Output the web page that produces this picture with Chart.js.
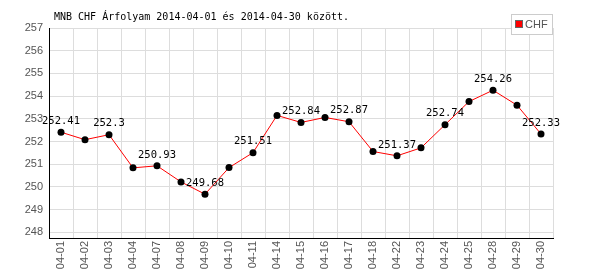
<!DOCTYPE html>
<html>
<head>
<meta charset="utf-8">
<script src="https://cdn.jsdelivr.net/npm/chart.js@4/dist/chart.umd.min.js"></script>
<style>
  body { margin: 0; background: #fff; }
  #wrap { width: 600px; height: 270px; }
</style>
</head>
<body>
<div id="wrap"><canvas id="chart"></canvas></div>
<script>
// Datos
const dates = ['04-01','04-02','04-03','04-04','04-07','04-08','04-09','04-10','04-11','04-14',
  '04-15','04-16','04-17','04-18','04-22','04-23','04-24','04-25','04-28','04-29','04-30'];
const chf = [252.41, 252.08, 252.3, 250.84, 250.93, 250.22, 249.68, 250.85, 251.51, 253.15,
  252.84, 253.06, 252.87, 251.56, 251.37, 251.72, 252.74, 253.76, 254.26, 253.6, 252.33];
const yTicks = [248, 249, 250, 251, 252, 253, 254, 255, 256, 257];
const title = 'MNB CHF Árfolyam 2014-04-01 és 2014-04-30 között.';

// titulo y leyenda
const decor = {
  id: 'decor',
  afterDraw(chart) {
    const ctx = chart.ctx;
    ctx.save();
    ctx.fillStyle = '#000';
    ctx.font = '10px "DejaVu Sans Mono"';
    ctx.textAlign = 'left';
    ctx.textBaseline = 'alphabetic';
    ctx.fillText(title, 54, 20);
    // leyenda
    ctx.fillStyle = '#fff';
    ctx.fillRect(511.5, 14.5, 41, 20);
    ctx.strokeStyle = '#ccc';
    ctx.lineWidth = 1;
    ctx.strokeRect(511.5, 14.5, 41, 20);
    ctx.fillStyle = '#f00';
    ctx.fillRect(516, 21, 6, 6);
    ctx.strokeStyle = '#666';
    ctx.strokeRect(515.5, 20.5, 7, 7);
    ctx.fillStyle = '#555';
    ctx.font = '11px "Liberation Sans"';
    ctx.textBaseline = 'middle';
    ctx.fillText('CHF', 525, 25);
    ctx.restore();
  }
};

// etiquetas de valor
const valueLabels = {
  id: 'valueLabels',
  afterDatasetsDraw(chart) {
    const ctx = chart.ctx;
    const meta = chart.getDatasetMeta(0);
    ctx.save();
    ctx.fillStyle = '#000';
    ctx.font = '10.5px "DejaVu Sans Mono"';
    ctx.textAlign = 'center';
    ctx.textBaseline = 'middle';
    meta.data.forEach((pt, i) => {
      if (i % 2 !== 0) return;
      ctx.fillText(String(chf[i]), pt.x, pt.y - 11);
    });
    ctx.restore();
  }
};

new Chart(document.getElementById('chart'), {
  type: 'line',
  data: {
    labels: dates,
    datasets: [{
      label: 'CHF',
      data: chf,
      borderColor: '#f00',
      borderWidth: 1,
      tension: 0,
      pointRadius: 3.5,
      pointBackgroundColor: '#000',
      pointBorderColor: '#000',
      pointBorderWidth: 0
    }]
  },
  options: {
    responsive: true,
    maintainAspectRatio: false,
    animation: false,
    devicePixelRatio: 1,
    layout: { padding: { top: 28, right: 47, left: 0, bottom: 0 } },
    plugins: { legend: { display: false }, title: { display: false }, tooltip: { enabled: false } },
    scales: {
      x: {
        offset: true,
        grid: { offset: true, color: '#ddd', drawTicks: false },
        border: { color: '#000', width: 1 },
        ticks: {
          color: '#555', font: { family: 'Liberation Sans', size: 11 },
          minRotation: 90, maxRotation: 90, autoSkip: false, padding: 3
        },
        afterFit(s) { s.height = 32; }
      },
      y: {
        min: 247.75,
        max: 257,
        grid: { color: '#ddd', drawTicks: false },
        border: { color: '#000', width: 1 },
        ticks: {
          color: '#555', font: { family: 'Liberation Sans', size: 11 }, padding: 6
        },
        afterBuildTicks(s) { s.ticks = yTicks.map(v => ({ value: v })); },
        afterFit(s) { s.width = 49; }
      }
    }
  },
  plugins: [decor, valueLabels]
});
</script>
</body>
</html>
